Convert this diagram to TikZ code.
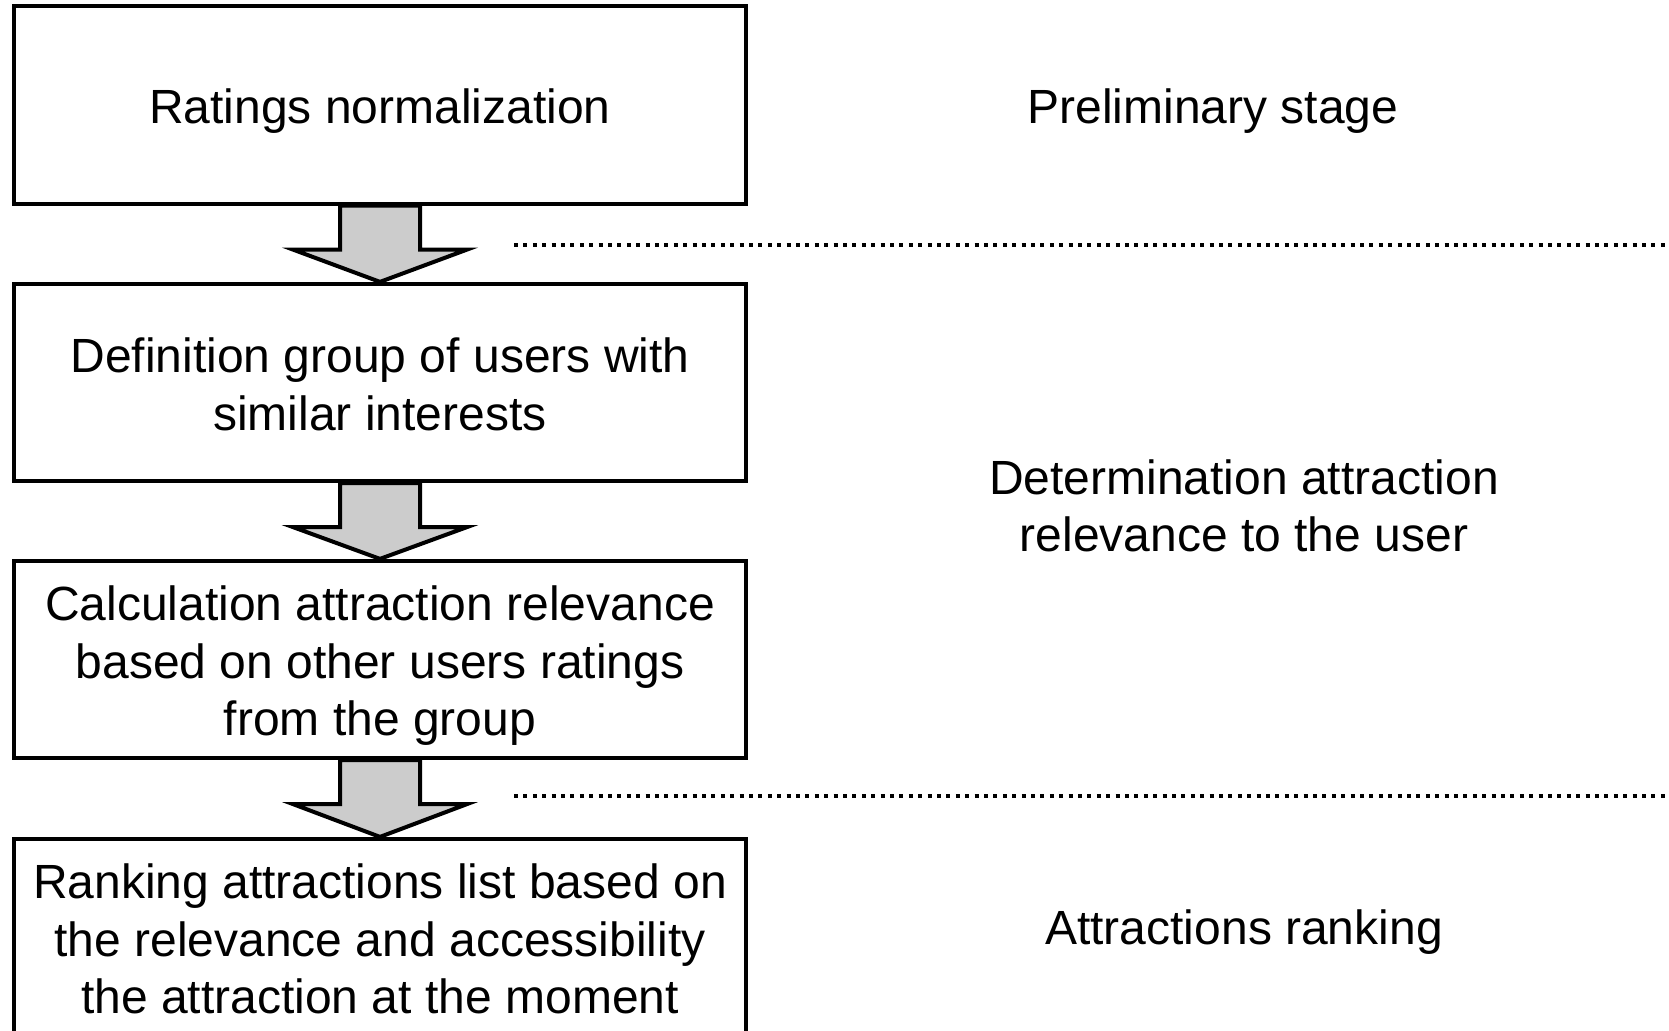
\documentclass[tikz,border=0pt]{standalone}
\usepackage{fontspec}
\setmainfont{Liberation Sans}
\usetikzlibrary{calc}
\newcommand{\lstrut}{\rule[-5pt]{0pt}{28.8pt}}

\begin{document}
\begin{tikzpicture}[x=0.5pt,y=-0.5pt]
\tikzset{stagebox/.style = {draw, line width=2pt, minimum width=366pt, minimum height=98.6pt, inner sep=0pt, align=center, font=\fontsize{24}{28.8}\selectfont},
  stagelabel/.style = {align=center, font=\fontsize{24}{28.8}\selectfont},
  blockarrow/.style = {draw, line width=2pt, fill=black!20, line join=miter},
  separator/.style = {line width=2pt, dash pattern=on 2pt off 2.7pt}}
\useasboundingbox (0,0) rectangle (1669,1031);
% steps
\node[stagebox] (norm) at (380,105) {\lstrut Ratings normalization};
\node[stagebox] (group) at (380,382.5) {\lstrut Definition group of users with\\similar interests\lstrut};
\node[stagebox] (calc) at (380,659.5) {\lstrut Calculation attraction relevance\\based on other users ratings\\from the group\lstrut};
\node[stagebox] (rank) at (380,937.5) {\lstrut Ranking attractions list based on\\the relevance and accessibility\\the attraction at the moment\lstrut};

% stages
\node[stagelabel] (prelim) at (1213,111.5) {Preliminary stage};
\node[stagelabel] (determ) at (1244,506) {Determination attraction\\relevance to the user};
\node[stagelabel] (ranking) at (1244,932) {Attractions ranking};

%arrows
\foreach \a/\b in {norm/group, group/calc, calc/rank}
  \draw[blockarrow] ($(\a.south)+(-40,0)$) -- ($(\a.south)+(-40,44)$) -- ($(\a.south)+(-87,44)$)
    -- (\b.north) -- ($(\a.south)+(87,44)$) -- ($(\a.south)+(40,44)$) -- ($(\a.south)+(40,0)$) -- cycle;

%separators
\coordinate (sepA) at (514,245);
\coordinate (sepB) at (514,796);
\draw[separator] (sepA) -- ++(1160,0);
\draw[separator] (sepB) -- ++(1160,0);
\end{tikzpicture}
\end{document}
